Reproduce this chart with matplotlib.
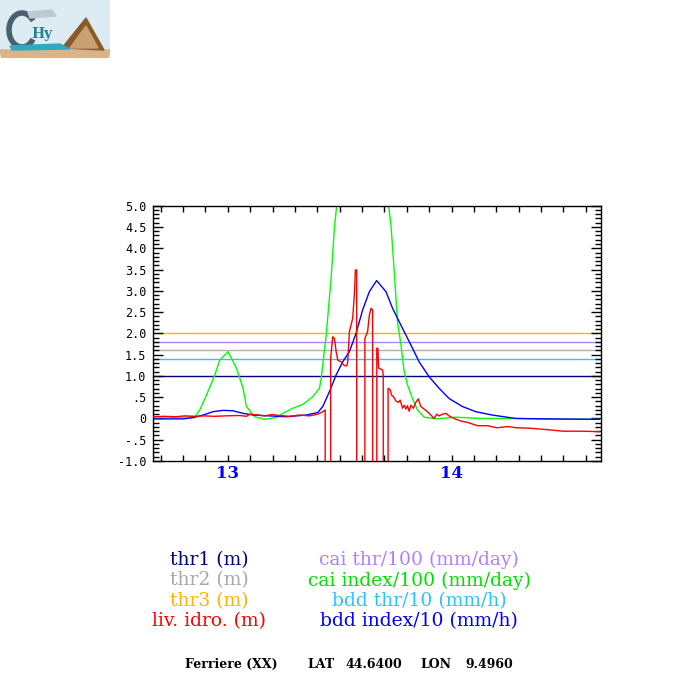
import numpy as np
import matplotlib
matplotlib.use("Agg")
import matplotlib.pyplot as plt
from matplotlib.ticker import MultipleLocator, NullFormatter
from matplotlib.patches import Rectangle, Polygon, Arc

# thresholds (m)
thr1 = 1.0
thr2 = 1.6
thr3 = 2.0
cai_thr = 1.8
bdd_thr = 1.4

# time axis: hours since day 12 00:00
cai_hours = [16.0, 20.46, 20.99, 21.71, 22.6, 23.13, 24.02, 24.92, 25.63, 25.99,
             26.88, 27.95, 29.2, 29.9, 30.97, 32.04, 33.11, 33.83, 34.01, 34.55,
             35.08, 35.43, 35.68, 36.5, 37.57, 38.6, 39.7, 40.77, 41.24, 41.5,
             41.85, 42.2, 42.57, 42.92, 43.27, 43.81, 44.34, 45.06, 46.31, 48.45,
             51.29, 54.87, 58.6, 63.85]
cai_index = [0.0, 0.04, 0.2, 0.55, 1.02, 1.37, 1.57, 1.18, 0.71, 0.28,
             0.04, -0.02, 0.02, 0.12, 0.24, 0.33, 0.51, 0.71, 0.94, 1.96,
             3.3, 4.48, 5.0, 7.2, 10.0, 11.5, 10.5, 6.4, 5.0, 4.55,
             3.45, 2.27, 1.73, 1.1, 0.79, 0.47, 0.2, 0.03, -0.01, 0.03,
             0.0, 0.0, -0.02, -0.02]

bdd_hours = [16.0, 19.21, 20.28, 21.35, 22.42, 23.49, 24.56, 25.63, 26.7, 28.48,
             30.27, 32.41, 33.65, 34.18, 34.9, 35.61, 36.32, 37.04, 37.75, 38.46,
             39.18, 39.96, 40.96, 41.67, 42.39, 43.1, 43.81, 44.52, 45.59, 46.66,
             47.73, 49.16, 50.59, 52.36, 54.87, 58.43, 63.85]
bdd_index = [-0.01, -0.01, 0.02, 0.08, 0.16, 0.19, 0.18, 0.12, 0.08, 0.06,
             0.04, 0.08, 0.14, 0.28, 0.63, 1.02, 1.33, 1.57, 2.0, 2.55,
             2.98, 3.24, 2.98, 2.59, 2.27, 1.96, 1.65, 1.33, 0.98, 0.71,
             0.47, 0.28, 0.16, 0.08, 0.0, -0.01, -0.02]

# hydrometric level, -99 = missing (drawn off the bottom)
liv_hours = [16.0, 17.25, 18.32, 19.39, 20.46, 21.53, 22.6, 23.67, 25.27, 26.02,
             26.34, 27.2, 27.95, 28.7, 29.55, 30.62, 31.69, 32.76, 33.62, 34.05,
             34.44, 34.49, 34.97, 35.03, 35.25, 35.43, 35.62, 35.79, 36.15, 36.5,
             36.77, 36.86, 37.04, 37.39, 37.58, 37.68, 37.82, 37.87, 38.64, 38.7,
             38.99, 39.18, 39.36, 39.53, 39.58, 39.93, 39.98, 40.09, 40.17, 40.6,
             40.67, 40.73, 41.13, 41.19, 41.42, 41.56, 41.78, 42.03, 42.28, 42.49,
             42.74, 42.92, 43.1, 43.27, 43.45, 43.64, 43.91, 44.17, 44.42, 44.71,
             45.06, 45.41, 45.78, 46.13, 46.42, 46.66, 47.02, 47.38, 47.73, 48.27,
             48.98, 49.69, 50.76, 51.83, 52.9, 53.97, 55.04, 56.47, 57.54, 58.61,
             60.03, 62.17, 63.6, 63.85]
liv_idro = [0.04, 0.05, 0.04, 0.06, 0.05, 0.06, 0.05, 0.06, 0.07, 0.05,
            0.1, 0.08, 0.06, 0.09, 0.07, 0.05, 0.08, 0.06, 0.1, 0.14,
            0.2, -99, -99, 1.41, 1.92, 1.88, 1.57, 1.37, 1.33, 1.24,
            1.24, 1.33, 2.04, 2.35, 2.94, 3.49, 3.49, -99, -99, 1.88,
            2.04, 2.43, 2.59, 2.55, -99, -99, 1.65, 1.65, 1.18, 1.14,
            1.02, -99, -99, 0.71, 0.67, 0.55, 0.51, 0.41, 0.38, 0.43,
            0.24, 0.31, 0.22, 0.3, 0.17, 0.31, 0.24, 0.38, 0.46, 0.28,
            0.22, 0.16, 0.08, 0.0, 0.1, 0.06, 0.1, 0.12, 0.06, 0.0,
            -0.06, -0.09, -0.17, -0.17, -0.22, -0.19, -0.22, -0.23, -0.25, -0.27,
            -0.3, -0.3, -0.31, -0.31]

day_labels = [13, 14]
yticks = [5.0, 4.5, 4.0, 3.5, 3.0, 2.5, 2.0, 1.5, 1.0, 0.5, 0.0, -0.5, -1.0]
ytick_labels = ["5.0", "4.5", "4.0", "3.5", "3.0", "2.5", "2.0", "1.5", "1.0", ".5", "0", "-.5", "-1.0"]

W = 700.0
fig = plt.figure(figsize=(7, 7), dpi=100)

# logo (rough sketch)
lax = fig.add_axes([0, 1 - 58 / W, 110 / W, 58 / W])
lax.set_xlim(0, 110)
lax.set_ylim(58, 0)
lax.axis("off")
lax.add_patch(Rectangle((0, 0), 110, 58, color="#dcecf2"))
lax.add_patch(Polygon([[0, 50], [110, 50], [108, 58], [2, 58]], color="#d9b48a"))
lax.add_patch(Polygon([[62, 48], [86, 18], [104, 50]], color="#8a5a2a"))
lax.add_patch(Polygon([[70, 48], [86, 26], [98, 48]], color="#c9a070"))
lax.add_patch(Arc((22, 30), 26, 34, theta1=40, theta2=320, color="#4a6070", lw=4))
lax.add_patch(Polygon([[10, 46], [60, 44], [70, 49], [12, 50]], color="#30a8c0"))
lax.text(42, 34, "Hy", color="#2a8090", fontsize=10, fontweight="bold",
         family="DejaVu Serif", ha="center", va="center")
lax.add_patch(Polygon([[28, 12], [52, 10], [56, 16], [30, 18]], color="#c0c8d0"))

ax = fig.add_axes([153.3 / W, 1 - 461 / W, (600.7 - 153.3) / W, (461 - 205.7) / W])

def days(h):
    return 12 + np.asarray(h) / 24.0

ax.axhline(thr3, color="#ffb000", lw=1, zorder=1)
ax.axhline(cai_thr, color="#b080ff", lw=1, zorder=1)
ax.axhline(thr2, color="#b0b0b0", lw=1, zorder=1)
ax.axhline(bdd_thr, color="#30c0ff", lw=1, zorder=1)
ax.axhline(thr1, color="#000080", lw=1, zorder=1)

ax.plot(days(cai_hours), cai_index, color="#00ff00", lw=1, zorder=2)
ax.plot(days(bdd_hours), bdd_index, color="#0000ff", lw=1, zorder=3)
ax.plot(days(liv_hours), liv_idro, color="#ff0000", lw=1, zorder=4)

ax.set_xlim(days(16), days(64))
ax.set_ylim(-1.0, 5.0)

ax.xaxis.set_major_locator(MultipleLocator(0.1))
ax.xaxis.set_major_formatter(NullFormatter())
ax.tick_params(axis="x", direction="in", length=4, width=1, top=True, bottom=True)
ax.set_yticks(yticks)
ax.set_yticklabels(ytick_labels, family="DejaVu Sans Mono", fontsize=8.5)
ax.yaxis.set_minor_locator(MultipleLocator(0.1))
ax.tick_params(axis="y", which="major", direction="in", length=7, width=1,
               left=True, right=True, pad=5)
ax.tick_params(axis="y", which="minor", direction="in", length=4, width=1,
               left=True, right=True)
for s in ax.spines.values():
    s.set_linewidth(1)

for d in day_labels:
    ax.text(d, -1.0 - 12 / 42.55, str(d), color="#0000ff", fontsize=12,
            family="DejaVu Serif", fontweight="bold", ha="center", va="center")

# legend text
left_items = [("thr1 (m)", "#000080"), ("thr2 (m)", "#a8a8a8"),
              ("thr3 (m)", "#ffb400"), ("liv. idro. (m)", "#ff0000")]
right_items = [("cai thr/100 (mm/day)", "#b080ff"), ("cai index/100 (mm/day)", "#00e000"),
               ("bdd thr/10 (mm/h)", "#30c0ff"), ("bdd index/10 (mm/h)", "#0000ff")]
rows_y = [560, 580.5, 601, 621.5]
for (txt, c), y in zip(left_items, rows_y):
    fig.text(209 / W, 1 - y / W, txt, color=c, fontsize=13.5, family="DejaVu Serif",
             ha="center", va="center")
for (txt, c), y in zip(right_items, rows_y):
    fig.text(419 / W, 1 - y / W, txt, color=c, fontsize=13.5, family="DejaVu Serif",
             ha="center", va="center")

footer = [("Ferriere (XX)", 185), ("LAT", 307), ("44.6400", 345), ("LON", 420), ("9.4960", 465)]
for txt, x in footer:
    fig.text(x / W, 1 - 664 / W, txt, color="black", fontsize=9, family="DejaVu Serif",
             fontweight="bold", ha="left", va="center")

fig.savefig("out.png", dpi=100)
